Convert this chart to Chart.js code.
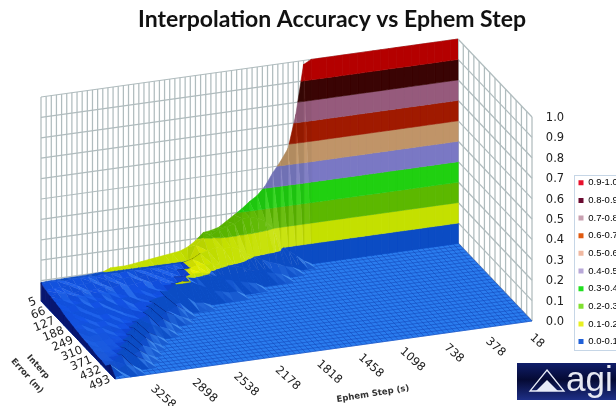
<!DOCTYPE html>
<html><head><meta charset="utf-8">
<style>html,body{margin:0;padding:0;background:#fff}canvas{display:block}</style>
<script src="https://cdn.jsdelivr.net/npm/chart.js@4"></script>
</head><body><canvas id="c" width="616" height="406"></canvas>
<script>
const stepTicks=[18,378,738,1098,1458,1818,2178,2538,2898,3258];
const errorTicks=[5,66,127,188,249,310,371,432,493];
const zTicks=[0,0.1,0.2,0.3,0.4,0.5,0.6,0.7,0.8,0.9,1.0];
const bandLabels=['0.0-0.1','0.1-0.2','0.2-0.3','0.3-0.4','0.4-0.5','0.5-0.6','0.6-0.7','0.7-0.8','0.8-0.9','0.9-1.0'];
const legendColors=['#2060d8','#e8f020','#80e030','#20e020','#b8a8d8','#f0b8a0','#e05a10','#c8a0b0','#6a0a30','#e8102c'];
const flatColors=['#2a6fdc','#e8f000','#8ed000','#30e020','#a8a0e0','#e0b080','#d04010','#c080a0','#601030','#e01020'];
const faceColors=['#0b4cc4','#c4e000','#5cb800','#20d010','#7a78c4','#c09468','#a01a00','#965a7c','#3a0404','#b40000'];
const errorRows=[5,8,35.5,66,96.5,127,157.5,188,218.5,249,279.5,310,340.5,371,401.5,432,462.5,493];
const stepCols=[18,78,138,198,258,318,378,438,498,558,618,678,738,798,858,918,978,1038,1098,1158,1218,1278,1338,1398,1458,1518,1578,1638,1698,1758,1818,1878,1938,1998,2058,2118,2178,2238,2298,2358,2418,2478,2538,2598,2658,2718,2778,2838,2898,2958,3018,3078,3138,3198,3258];
const r00=[1,1,1,1,1,1,1,1,1,1,1,1,1,1,1,1,1,1,1,1,.98,.74,.58,.52,.47,.41,.37,.345,.315,.29,.265,.24,.23,.225,.19,.165,.15,.145,.14,.135,.13,.125,.12,.115,.115,.115,.10,.098,.096,.095,.095,.094,.093,.093,.09];
const r01=[0,0,0,0,0,0,0,0,0,0,0,0,0,0,0,0,0,0,0,0,.02,.05,.08,.11,.2,.24,.26,.27,.27,.25,.24,.23,.21,.2,.17,.09,.09,.09,.09,.085,.09,.085,.09,.09,.085,.09,.09,.085,.09,.09,.09,.085,.09,.09,.085];
const r02=[0,0,0,0,0,0,0,0,0,0,0,0,0,0,0,0,0,0,0,0,0,0,.02,.03,.05,.06,.08,.1,.12,.15,.16,.16,.17,.16,.15,.13,.08,.085,.08,.085,.08,.085,.075,.085,.08,.08,.085,.075,.085,.08,.08,.085,.08,.08,.075];
const r03=[0,0,0,0,0,0,0,0,0,0,0,0,0,0,0,0,0,0,0,0,0,0,0,0,.02,.03,.04,.05,.06,.08,.09,.1,.11,.12,.12,.12,.11,.075,.08,.075,.08,.07,.08,.075,.07,.08,.07,.08,.075,.07,.08,.07,.075,.08,.07];
const r04=[0,0,0,0,0,0,0,0,0,0,0,0,0,0,0,0,0,0,0,0,0,0,0,0,0,0,0,0,.02,.03,.04,.05,.06,.08,.1,.11,.11,.1,.07,.075,.075,.065,.075,.07,.065,.075,.065,.07,.075,.065,.07,.075,.065,.07,.065];
const r05=[0,0,0,0,0,0,0,0,0,0,0,0,0,0,0,0,0,0,0,0,0,0,0,0,0,0,0,0,0,0,0,.02,.02,.03,.04,.06,.08,.1,.105,.1,.07,.075,.065,.07,.06,.07,.065,.06,.07,.065,.06,.07,.065,.06,.06];
const r06=[0,0,0,0,0,0,0,0,0,0,0,0,0,0,0,0,0,0,0,0,0,0,0,0,0,0,0,0,0,0,0,0,0,0,0,0,.015,.02,.05,.03,.025,.075,.07,.06,.065,.055,.065,.06,.055,.065,.06,.055,.06,.055,.05];
const r07=[0,0,0,0,0,0,0,0,0,0,0,0,0,0,0,0,0,0,0,0,0,0,0,0,0,0,0,0,0,0,0,0,0,0,0,0,0,0,0,.02,.045,.025,.02,.075,.065,.055,.06,.05,.06,.055,.05,.055,.05,.05,.045];
const r08=[0,0,0,0,0,0,0,0,0,0,0,0,0,0,0,0,0,0,0,0,0,0,0,0,0,0,0,0,0,0,0,0,0,0,0,0,0,0,0,0,.015,.03,.05,.02,.08,.065,.05,.055,.05,.055,.05,.045,.05,.045,.04];
const r09=[0,0,0,0,0,0,0,0,0,0,0,0,0,0,0,0,0,0,0,0,0,0,0,0,0,0,0,0,0,0,0,0,0,0,0,0,0,0,0,0,0,0,.02,.045,.02,.075,.06,.05,.05,.045,.05,.045,.04,.045,.035];
const r10=[0,0,0,0,0,0,0,0,0,0,0,0,0,0,0,0,0,0,0,0,0,0,0,0,0,0,0,0,0,0,0,0,0,0,0,0,0,0,0,0,0,0,0,.02,.035,.05,.02,.075,.055,.05,.04,.045,.04,.035,.03];
const r11=[0,0,0,0,0,0,0,0,0,0,0,0,0,0,0,0,0,0,0,0,0,0,0,0,0,0,0,0,0,0,0,0,0,0,0,0,0,0,0,0,0,0,0,0,0,.02,.04,.02,.075,.05,.045,.04,.035,.03,.03];
const r12=[0,0,0,0,0,0,0,0,0,0,0,0,0,0,0,0,0,0,0,0,0,0,0,0,0,0,0,0,0,0,0,0,0,0,0,0,0,0,0,0,0,0,0,0,0,0,.015,.045,.02,.07,.05,.04,.035,.03,.025];
const r13=[0,0,0,0,0,0,0,0,0,0,0,0,0,0,0,0,0,0,0,0,0,0,0,0,0,0,0,0,0,0,0,0,0,0,0,0,0,0,0,0,0,0,0,0,0,0,0,.02,.035,.015,.07,.045,.035,.03,.02];
const r14=[0,0,0,0,0,0,0,0,0,0,0,0,0,0,0,0,0,0,0,0,0,0,0,0,0,0,0,0,0,0,0,0,0,0,0,0,0,0,0,0,0,0,0,0,0,0,0,0,.015,.04,.02,.065,.04,.03,.02];
const r15=[0,0,0,0,0,0,0,0,0,0,0,0,0,0,0,0,0,0,0,0,0,0,0,0,0,0,0,0,0,0,0,0,0,0,0,0,0,0,0,0,0,0,0,0,0,0,0,0,0,.02,.04,.015,.06,.035,.015];
const r16=[0,0,0,0,0,0,0,0,0,0,0,0,0,0,0,0,0,0,0,0,0,0,0,0,0,0,0,0,0,0,0,0,0,0,0,0,0,0,0,0,0,0,0,0,0,0,0,0,0,0,0,.02,.035,.015,.045];
const r17=[0,0,0,0,0,0,0,0,0,0,0,0,0,0,0,0,0,0,0,0,0,0,0,0,0,0,0,0,0,0,0,0,0,0,0,0,0,0,0,0,0,0,0,0,0,0,0,0,0,0,0,0,0,.015,.01];
const values=[r00,r01,r02,r03,r04,r05,r06,r07,r08,r09,r10,r11,r12,r13,r14,r15,r16,r17];

// 3-D view of the chart box
const sMin=18,sMax=3258,eMin=5,eMax=493;
function project(s,e,z){
  const fu=(s-sMin)/(sMax-sMin),fv=(e-eMin)/(eMax-eMin);
  return {x:458-417*fu+74*fv,y:243+58*fu+78*fv-204*z};
}
const hex=h=>[parseInt(h.slice(1,3),16),parseInt(h.slice(3,5),16),parseInt(h.slice(5,7),16)];
const mix=(a,b,t)=>a.map((v,i)=>v+(b[i]-v)*t);
const css=c=>`rgb(${c.map(v=>Math.round(v)).join(',')})`;
const sets=[];
function addLine(pts,color,w){sets.push({data:pts,borderColor:color,backgroundColor:color,borderWidth:w,fill:false,pointRadius:0,tension:0});}
function addPoly(pts,color){sets.push({data:pts,borderColor:color,backgroundColor:color,borderWidth:0.6,fill:'shape',pointRadius:0,tension:0});}

// walls
const wall='#b0bcbe';
for(let i=0;i<=81;i++){const s=sMin+i*40;addLine([project(s,eMin,0),project(s,eMin,1)],wall,1.25);}
for(const z of zTicks){addLine([project(sMin,eMin,z),project(sMax,eMin,z)],wall,1.25);}
for(let i=0;i<=14;i++){const e=eMin+(eMax-eMin)*i/14;addLine([project(sMin,e,0),project(sMin,e,1)],wall,1.25);}
for(const z of zTicks){addLine([project(sMin,eMin,z),project(sMin,eMax,z)],wall,1.25);}
// floor
addPoly([project(sMin,eMin,0),project(sMax,eMin,0),project(sMax,eMax,0),project(sMin,eMax,0)],'#2a7cee');
const hatch='rgba(18,70,184,0.55)';
for(let i=0;i<=26;i++){const e=eMin+(eMax-eMin)*i/26;addLine([project(sMin,e,0),project(sMax,e,0)],hatch,1);}
for(let i=0;i<=81;i++){const s=sMin+i*40;addLine([project(s,eMin,0),project(s,eMax,0)],hatch,1);}

function clip(poly,level,keepAbove){
  const out=[];
  for(let i=0;i<poly.length;i++){
    const a=poly[i],b=poly[(i+1)%poly.length];
    const ia=keepAbove?a.z>=level:a.z<=level, ib=keepAbove?b.z>=level:b.z<=level;
    if(ia)out.push(a);
    if(ia!==ib){const t=(level-a.z)/(b.z-a.z);out.push({s:a.s+(b.s-a.s)*t,e:a.e+(b.e-a.e)*t,z:level,c:a.c+(b.c-a.c)*t,r:a.r+(b.r-a.r)*t});}
  }
  return out;
}
const area=p=>{let A=0;for(let i=0;i<p.length;i++){const q=p[(i+1)%p.length];A+=p[i].x*q.y-q.x*p[i].y;}return A;};
function drawFacet(v){
  const [p,q,w]=[v[0],v[1],v[v.length-1]];
  const dc1=q.c-p.c,dr1=q.r-p.r,dz1=q.z-p.z,dc2=w.c-p.c,dr2=w.r-p.r,dz2=w.z-p.z;
  const det=dc1*dr2-dc2*dr1||1;
  const gu=(dz1*dr2-dz2*dr1)/det,gv=(dc1*dz2-dc2*dz1)/det;
  const flat=area(v.map(a=>project(a.s,a.e,0))),real=area(v.map(a=>project(a.s,a.e,a.z)));
  const back=flat*real<0;
  const zAvg=v.reduce((t,a)=>t+a.z,0)/v.length;
  for(let b=0;b<10;b++){
    let poly=clip(v,b===0?-1:b/10,true);
    if(poly.length<3)continue;
    poly=clip(poly,b===9?2:(b+1)/10,false);
    if(poly.length<3)continue;
    let col;
    if(back){col=b===0?[6,16,92]:mix(hex(faceColors[b]),[0,0,20],.78);}
    else{
      let base=hex(flatColors[b]);
      if(b===0)base=mix(base,[20,84,232],Math.min(1,zAvg/.05));
      const steep=Math.min(1,Math.max(0,-gv)*25);
      col=mix(base,hex(faceColors[b]),steep);
      if(b===0){
        if(gu>0)col=mix(col,[95,175,255],Math.min(.85,gu*28)*(1-steep));
        else col=mix(col,[6,40,170],Math.min(.6,-gu*14)*(1-steep));
      }else{
        if(gu>0)col=mix(col,[255,255,200],Math.min(.12,gu*3));
        else col=mix(col,[0,30,0],Math.min(.08,-gu*2));
      }
    }
    addPoly(poly.map(a=>project(a.s,a.e,a.z)),css(col));
  }
}
for(let c=0;c<stepCols.length-1;c++){
  for(let r=0;r<errorRows.length-1;r++){
    const A=values[r][c],B=values[r][c+1],C=values[r+1][c],D=values[r+1][c+1];
    if(A===0&&B===0&&C===0&&D===0)continue;
    const P=(cc,rr)=>({s:stepCols[cc],e:errorRows[rr],z:values[rr][cc],c:cc,r:errorRows[rr]/30.5});
    if(Math.abs(A+D-B-C)<1e-6){drawFacet([P(c,r),P(c+1,r),P(c+1,r+1),P(c,r+1)]);}
    else{drawFacet([P(c,r),P(c+1,r),P(c,r+1)]);drawFacet([P(c+1,r),P(c+1,r+1),P(c,r+1)]);}
  }
}
const last=stepCols.length-1;
for(let r=0;r<errorRows.length-1;r++){
  const z1=values[r][last],z2=values[r+1][last];
  addPoly([project(sMax,errorRows[r],z1),project(sMax,errorRows[r+1],z2),project(sMax,errorRows[r+1],0),project(sMax,errorRows[r],0)],'#081670');
}
sets.reverse();

const deco={id:'deco',
  afterLayout(chart){
    const t=chart.titleBlock; if(t){t.left=48;t.right=616;}
    const l=chart.legend; if(l){l.left=570.35;l.right=720;l.top=169.85;l.bottom=406;}
  },
  afterDraw(chart){
    const g=chart.ctx,X=chart.scales.x,Y=chart.scales.y;
    const pt=(s,e,z)=>{const p=project(s,e,z);return [X.getPixelForValue(p.x),Y.getPixelForValue(p.y)];};
    const txt=(t,x,y,rot,font,align,color)=>{g.save();g.translate(x,y);g.rotate(rot*Math.PI/180);g.font=font;g.textAlign=align;g.textBaseline='middle';g.fillStyle=color;g.fillText(t,0,0);g.restore();};
    const tf='11.5px "DejaVu Sans"';
    for(const e of errorTicks){const [x,y]=pt(sMax,e,0);txt(String(e),x-5,y,-22,tf,'right','#222');}
    for(const s of stepTicks){const fu=(s-sMin)/(sMax-sMin);const [x,y]=pt(s,eMax,0);txt(String(s),x+5+43*fu,y+20-2*fu,42,tf,'center','#222');}
    for(const z of zTicks){const [,y]=pt(sMin,eMax,z);txt(z.toFixed(1),555,y+1,0,tf,'center','#222');}
    const af='bold 8.5px "DejaVu Sans"';
    txt('Interp',38,367,48,af,'center','#333');
    txt('Error (m)',27,376,48,af,'center','#333');
    txt('Ephem Step (s)',373,394,-9,af,'center','#333');
    g.strokeStyle='#c6d6e6';g.lineWidth=1;g.strokeRect(574.5,175.5,60,175);
    const gr=g.createLinearGradient(0,363,0,400);
    gr.addColorStop(0,'#101e6a');gr.addColorStop(.45,'#050a34');gr.addColorStop(1,'#1e2f86');
    g.fillStyle=gr;g.fillRect(517,363,99,37);
    g.strokeStyle='#e8ecf8';g.lineWidth=1.3;g.beginPath();g.moveTo(547,370);g.lineTo(564,391);g.lineTo(530,391);g.closePath();g.stroke();
    g.fillStyle='#e8ecf8';g.beginPath();g.moveTo(547,380);g.lineTo(558,391);g.lineTo(536,391);g.closePath();g.fill();
    g.font='35px "Liberation Sans"';g.textAlign='left';g.textBaseline='alphabetic';g.fillStyle='#e6e8f2';g.fillText('agi',566,391);
  }
};
new Chart(document.getElementById('c'),{
  type:'line',
  data:{datasets:sets},
  plugins:[deco],
  options:{
    responsive:false,animation:false,events:[],
    layout:{padding:0},
    scales:{
      x:{type:'linear',display:false,min:0,max:616},
      y:{type:'linear',display:false,min:32,max:406,reverse:true}
    },
    plugins:{
      tooltip:{enabled:false},
      title:{display:true,text:'Interpolation Accuracy vs Ephem Step',color:'#111',padding:{top:7,bottom:0},font:{family:'Lato',weight:'bold',size:23,lineHeight:'25px'}},
      legend:{display:true,position:'chartArea',align:'start',labels:{boxWidth:5,boxHeight:5,padding:8.15,color:'#555',font:{family:'"Liberation Sans"',size:9.5},
        generateLabels:()=>bandLabels.map((t,i)=>({text:t,fillStyle:legendColors[i],strokeStyle:legendColors[i],lineWidth:0,index:i})).reverse()}}
    }
  }
});
</script></body></html>
